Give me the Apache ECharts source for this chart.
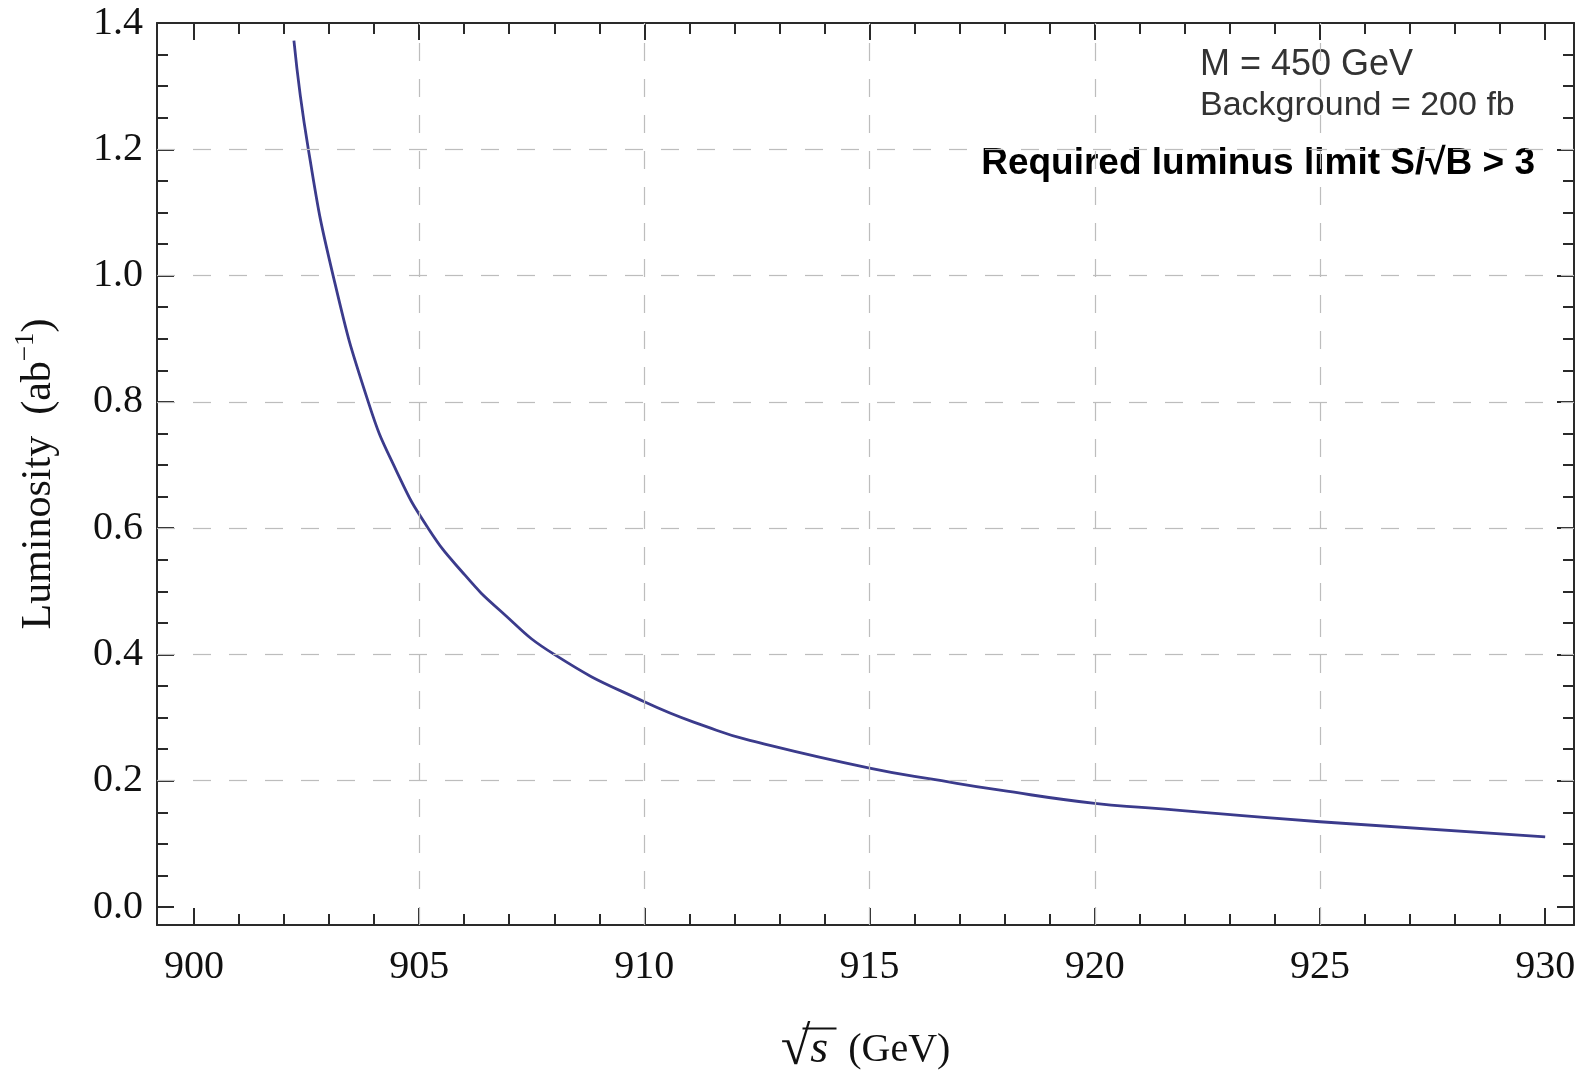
<!DOCTYPE html>
<html>
<head>
<meta charset="utf-8">
<title>Luminosity vs sqrt(s)</title>
<script src="https://cdn.jsdelivr.net/npm/echarts@6/dist/echarts.min.js"></script>
<style>
  html, body { margin: 0; padding: 0; background: #fff; }
  #chart { width: 1585px; height: 1074px; }
</style>
</head>
<body>
<div id="chart"></div>
<script>
    // values
    var energy = [902.22, 902.54, 903.09, 903.87, 904.5, 905.2, 906.0, 906.79, 908.0, 910.0, 911.6, 912.34, 915.0, 916.6, 917.9, 920.0, 921.2, 925.0, 930.0];
    var luminosity = [1.372, 1.200, 1.000, 0.800, 0.690, 0.600, 0.527, 0.470, 0.400, 0.325, 0.280, 0.264, 0.220, 0.200, 0.185, 0.164, 0.157, 0.135, 0.111];

    var xMajor = [900, 905, 910, 915, 920, 925, 930];
    var xMinor = [901, 902, 903, 904, 906, 907, 908, 909, 911, 912, 913, 914, 916, 917, 918, 919, 921, 922, 923, 924, 926, 927, 928, 929];
    var yMajor = [0, 0.2, 0.4, 0.6, 0.8, 1.0, 1.2, 1.4];
    var yMinor = [0.05, 0.1, 0.15, 0.25, 0.3, 0.35, 0.45, 0.5, 0.55, 0.65, 0.7, 0.75, 0.85, 0.9, 0.95, 1.05, 1.1, 1.15, 1.25, 1.3, 1.35];
    var xGrid = [905, 910, 915, 920, 925];
    var yGrid = [0.2, 0.4, 0.6, 0.8, 1.0, 1.2];

    var X_MIN = 899.18, X_MAX = 930.64;
    var Y_MIN = -0.0285, Y_MAX = 1.4;
    var serif = 'Liberation Serif';

    function xAx(pos, ticks, len, line, labels) {
        var ax = {
            type: 'value', position: pos, min: X_MIN, max: X_MAX,
            axisLine: { show: line, onZero: false, lineStyle: { color: '#2a2a2a', width: 2 } },
            axisTick: { show: true, inside: true, length: len, customValues: ticks, lineStyle: { color: '#2a2a2a', width: 2 } },
            axisLabel: { show: false },
            splitLine: { show: false }
        };
        if (labels) {
            ax.axisLabel = { show: true, customValues: ticks, margin: 22, color: '#111',
                fontFamily: serif, fontSize: 40, formatter: function (v) { return Math.round(v) + ''; } };
            ax.name = '{r|√}{s|s}{g|  (GeV)}';
            ax.nameLocation = 'middle';
            ax.nameGap = 98;
            ax.nameTextStyle = { rich: {
                r: { fontFamily: serif, fontSize: 54, color: '#111' },
                s: { fontFamily: serif, fontStyle: 'italic', fontSize: 46, color: '#111' },
                g: { fontFamily: serif, fontSize: 40, color: '#111' }
            } };
        }
        return ax;
    }
    function yAx(pos, ticks, len, line, labels) {
        var ax = {
            type: 'value', position: pos, min: Y_MIN, max: Y_MAX,
            axisLine: { show: line, onZero: false, lineStyle: { color: '#2a2a2a', width: 2 } },
            axisTick: { show: true, inside: true, length: len, customValues: ticks, lineStyle: { color: '#2a2a2a', width: 2 } },
            axisLabel: { show: false },
            splitLine: { show: false }
        };
        if (labels) {
            ax.axisLabel = { show: true, customValues: ticks, margin: 14, color: '#111',
                fontFamily: serif, fontSize: 40, formatter: function (v) { return v.toFixed(1); } };
            ax.name = '{n|Luminosity  (ab}{p|−1}{n|)}';
            ax.nameLocation = 'middle';
            ax.nameGap = 92;
            ax.nameTextStyle = { rich: {
                n: { fontFamily: serif, fontSize: 42, color: '#111' },
                p: { fontFamily: serif, fontSize: 27, color: '#111', padding: [0, 0, 26, 0] }
            } };
        }
        return ax;
    }

    var gridLines = [];
    xGrid.forEach(function (v) { gridLines.push({ xAxis: v }); });
    yGrid.forEach(function (v) { gridLines.push({ yAxis: v }); });

    var points = energy.map(function (e, i) { return [e, luminosity[i]]; });

    var option = {
        backgroundColor: '#fff',
        animation: false,
        grid: { left: 157, right: 11, top: 23, bottom: 149, containLabel: false, outerBoundsMode: 'none' },
        xAxis: [
            xAx('bottom', xMajor, 17, true, true),
            xAx('bottom', xMinor, 11, false, false),
            xAx('top', xMajor, 17, true, false),
            xAx('top', xMinor, 11, false, false)
        ],
        yAxis: [
            yAx('left', yMajor, 17, true, true),
            yAx('left', yMinor, 11, false, false),
            yAx('right', yMajor, 17, true, false),
            yAx('right', yMinor, 11, false, false)
        ],
        graphic: [
            { type: 'text', left: 1200, top: 47, style: { text: 'M = 450 GeV', font: '36px "Liberation Sans"', fill: '#333' } },
            { type: 'text', left: 1200, top: 89, style: { text: 'Background = 200 fb', font: '34px "Liberation Sans"', fill: '#333' } },
            { type: 'text', right: 50, top: 145, style: { text: 'Required luminus limit S/√B > 3', font: 'bold 37px "Liberation Sans"', fill: '#000' } },
            // vinculum of the square root in the x-axis title
            { type: 'line', left: 800, top: 1026, shape: { x1: 0, y1: 0, x2: 34, y2: 0 }, style: { stroke: '#111', lineWidth: 2 } }
        ],
        series: [{
            type: 'line',
            xAxisIndex: 0,
            yAxisIndex: 0,
            data: points,
            smooth: 0.5,
            showSymbol: false,
            lineStyle: { color: '#3b3b8c', width: 2.8 },
            markLine: {
                silent: true,
                symbol: 'none',
                label: { show: false },
                lineStyle: { color: '#bdbdbd', width: 1.2, type: [18, 18] },
                data: gridLines
            },
            z: 3
        }]
    };

    var myChart = echarts.init(document.getElementById('chart'));
    myChart.setOption(option);
</script>
</body>
</html>
